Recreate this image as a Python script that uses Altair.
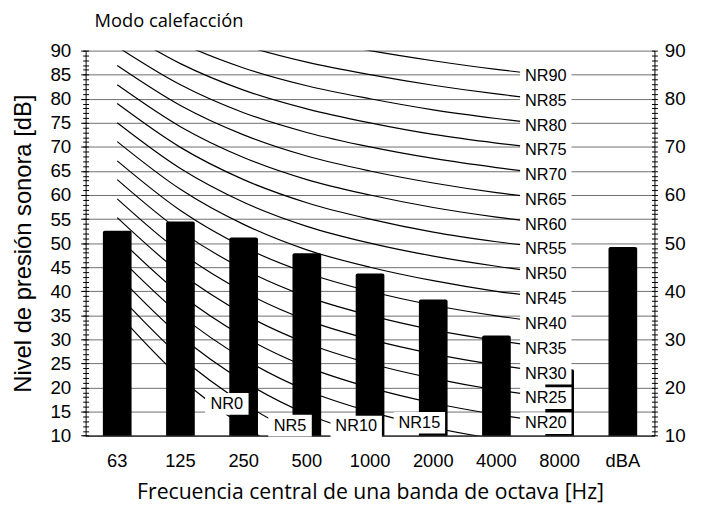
import altair as alt
import pandas as pd

# ---------------- data ----------------
freqs = ["63", "125", "250", "500", "1000", "2000", "4000", "8000", "dBA"]
bar_db = [52.6, 54.5, 51.2, 47.9, 43.7, 38.3, 30.8, 23.8, 49.2]

nr_freqs = ["63", "125", "250", "500", "1000", "2000", "4000", "8000"]
nr_names = ["NR0", "NR5", "NR10", "NR15", "NR20", "NR25", "NR30", "NR35", "NR40",
            "NR45", "NR50", "NR55", "NR60", "NR65", "NR70", "NR75", "NR80", "NR85", "NR90"]
nr_curves = [
    [35.5, 22.0, 12.0, 4.8, 0.0, -3.5, -6.1, -8.0],
    [39.5, 26.4, 16.7, 9.7, 5.0, 1.6, -1.0, -2.9],
    [43.4, 30.7, 21.3, 14.5, 10.0, 6.7, 4.2, 2.3],
    [47.4, 35.1, 26.0, 19.4, 15.0, 11.7, 9.3, 7.5],
    [51.3, 39.4, 30.6, 24.3, 20.0, 16.8, 14.4, 12.6],
    [55.3, 43.8, 35.3, 29.2, 25.0, 21.9, 19.5, 17.8],
    [59.2, 48.1, 39.9, 34.0, 30.0, 27.0, 24.7, 22.9],
    [63.2, 52.5, 44.6, 38.9, 35.0, 32.0, 29.8, 28.1],
    [67.1, 56.8, 49.2, 43.8, 40.0, 37.1, 34.9, 33.2],
    [71.1, 61.2, 53.9, 48.6, 45.0, 42.2, 40.0, 38.4],
    [75.0, 65.5, 58.5, 53.5, 50.0, 47.3, 45.2, 43.5],
    [79.0, 69.9, 63.2, 58.4, 55.0, 52.3, 50.3, 48.7],
    [82.9, 74.2, 67.8, 63.2, 60.0, 57.4, 55.4, 53.8],
    [86.9, 78.6, 72.5, 68.1, 65.0, 62.5, 60.5, 59.0],
    [90.8, 82.9, 77.1, 73.0, 70.0, 67.6, 65.7, 64.1],
    [94.8, 87.3, 81.8, 77.9, 75.0, 72.6, 70.8, 69.3],
    [98.7, 91.6, 86.4, 82.7, 80.0, 77.7, 75.9, 74.4],
    [102.7, 96.0, 91.1, 87.6, 85.0, 82.8, 81.0, 79.6],
    [106.6, 100.3, 95.7, 92.5, 90.0, 87.9, 86.1, 84.7],
]
label_freq = ["250", "500", "1000", "2000"] + ["8000"] * 15
label_db = [16.6, 12.1, 11.9, 12.7, 12.6, 17.8, 22.9, 28.1, 33.2, 38.4, 43.5,
            48.7, 53.8, 59.0, 64.1, 69.3, 74.4, 79.6, 84.7]

y_major = list(range(10, 91, 5))
y_minor = list(range(10, 91, 1))
y_right = list(range(10, 91, 10))

# ---------------- tables ----------------
bars_df = pd.DataFrame({"freq": freqs, "db": bar_db})
rows = []
for name, curve in zip(nr_names, nr_curves):
    for i, (f, v) in enumerate(zip(nr_freqs, curve)):
        rows.append({"name": name, "freq": f, "db": v, "idx": i})
lines_df = pd.DataFrame(rows)
labels_df = pd.DataFrame({"name": nr_names, "freq": label_freq, "db": label_db})

ARIAL = "Liberation Sans"
APTOS = "Open Sans"

xscale = alt.Scale(domain=freqs, paddingInner=0.546, paddingOuter=0.273)
yscale = alt.Scale(domain=[10, 90], nice=False, zero=False)

x_axis = alt.Axis(
    orient="bottom",
    title="Frecuencia central de una banda de octava [Hz]",
    titleFont=APTOS, titleFontSize=21.4, titleFontWeight="normal", titleColor="black",
    titleBaseline="alphabetic", titleY=64,
    labelFont=ARIAL, labelFontSize=18.5, labelColor="black", labelAngle=0,
    labelPadding=16, ticks=False, tickSize=0, domainColor="black", domainWidth=1,
    grid=False,
)
# top axis only used to carry the chart heading
x_top = alt.Axis(
    orient="top", title="Modo calefacción", labels=False, ticks=False, domain=False,
    grid=False, titleFont=APTOS, titleFontSize=18.5, titleFontWeight="normal",
    titleColor="black", titleAlign="left", titleBaseline="alphabetic",
    titleX=8.5, titleY=-24,
)

main_left = alt.Axis(
    orient="left", values=y_major, title="Nivel de presión sonora [dB]",
    titleFont=ARIAL, titleFontSize=24, titleFontWeight="normal", titleColor="black",
    titleAngle=-90, titleBaseline="alphabetic", titleX=-55.5, titleY=194.7,
    labelFont=ARIAL, labelFontSize=19, labelColor="black", labelPadding=10,
    tickSize=5, tickColor="black", domainColor="black",
    grid=True, gridColor="#6e6e6e", gridWidth=1,
)
minor_left = alt.Axis(
    orient="left", values=y_minor, title=None, labels=False, domain=False,
    grid=False, tickSize=6, tickColor="black", offset=-3,
)
main_right = alt.Axis(
    orient="right", values=y_right, title=None,
    labelFont=ARIAL, labelFontSize=19, labelColor="black", labelPadding=10,
    ticks=False, tickSize=0, domainColor="black", grid=False,
)
minor_right = alt.Axis(
    orient="right", values=y_minor, title=None, labels=False, domain=False,
    grid=False, tickSize=6, tickColor="black", offset=-3,
)

lines = alt.Chart(lines_df).mark_line(
    color="black", strokeWidth=1.2, clip=True, interpolate="monotone"
).encode(
    x=alt.X("freq:N", scale=xscale, sort=freqs, axis=x_axis),
    y=alt.Y("db:Q", scale=yscale, axis=main_left),
    detail="name:N",
    order=alt.Order("idx:Q"),
)

bars = alt.Chart(bars_df).mark_bar(
    color="black", cornerRadiusTopLeft=2, cornerRadiusTopRight=2
).encode(
    x=alt.X("freq:N", scale=xscale, sort=freqs, axis=x_top),
    y=alt.Y("db:Q", scale=yscale, axis=minor_left),
    y2=alt.datum(10),
)

long_lab = alt.Chart(labels_df).transform_filter("length(datum.name) > 3")
short_lab = alt.Chart(labels_df).transform_filter("length(datum.name) <= 3")

box_long = long_lab.mark_point(
    shape="M-1,-0.42L1,-0.42L1,0.42L-1,0.42Z", size=2704, filled=True,
    color="white", opacity=1, strokeWidth=0, xOffset=-14,
).encode(
    x=alt.X("freq:N", scale=xscale, sort=freqs, axis=None),
    y=alt.Y("db:Q", scale=yscale, axis=main_right),
)
box_short = short_lab.mark_point(
    shape="M-1,-0.5L1,-0.5L1,0.5L-1,0.5Z", size=1936, filled=True,
    color="white", opacity=1, strokeWidth=0, xOffset=-17,
).encode(
    x=alt.X("freq:N", scale=xscale, sort=freqs, axis=None),
    y=alt.Y("db:Q", scale=yscale, axis=minor_right),
)
text_long = long_lab.mark_text(
    font=ARIAL, fontSize=16.5, color="black", align="center", baseline="middle",
    xOffset=-14,
).encode(
    x=alt.X("freq:N", scale=xscale, sort=freqs, axis=None),
    y=alt.Y("db:Q", scale=yscale, axis=None),
    text="name:N",
)
text_short = short_lab.mark_text(
    font=ARIAL, fontSize=16.5, color="black", align="center", baseline="middle",
    xOffset=-17,
).encode(
    x=alt.X("freq:N", scale=xscale, sort=freqs, axis=None),
    y=alt.Y("db:Q", scale=yscale, axis=None),
    text="name:N",
)

chart = alt.layer(
    lines, bars, box_long, box_short, text_long, text_short
).resolve_scale(x="shared", y="shared").resolve_axis(
    x="independent", y="independent"
).properties(
    width=575.2, height=389.4,
    autosize=alt.AutoSizeParams(type="none"),
    padding={"left": 78.5, "top": 40.3, "right": 40, "bottom": 70},
    background="white",
).configure_view(stroke=None)

chart.save("out.html", embed_options={"renderer": "svg", "actions": False})
